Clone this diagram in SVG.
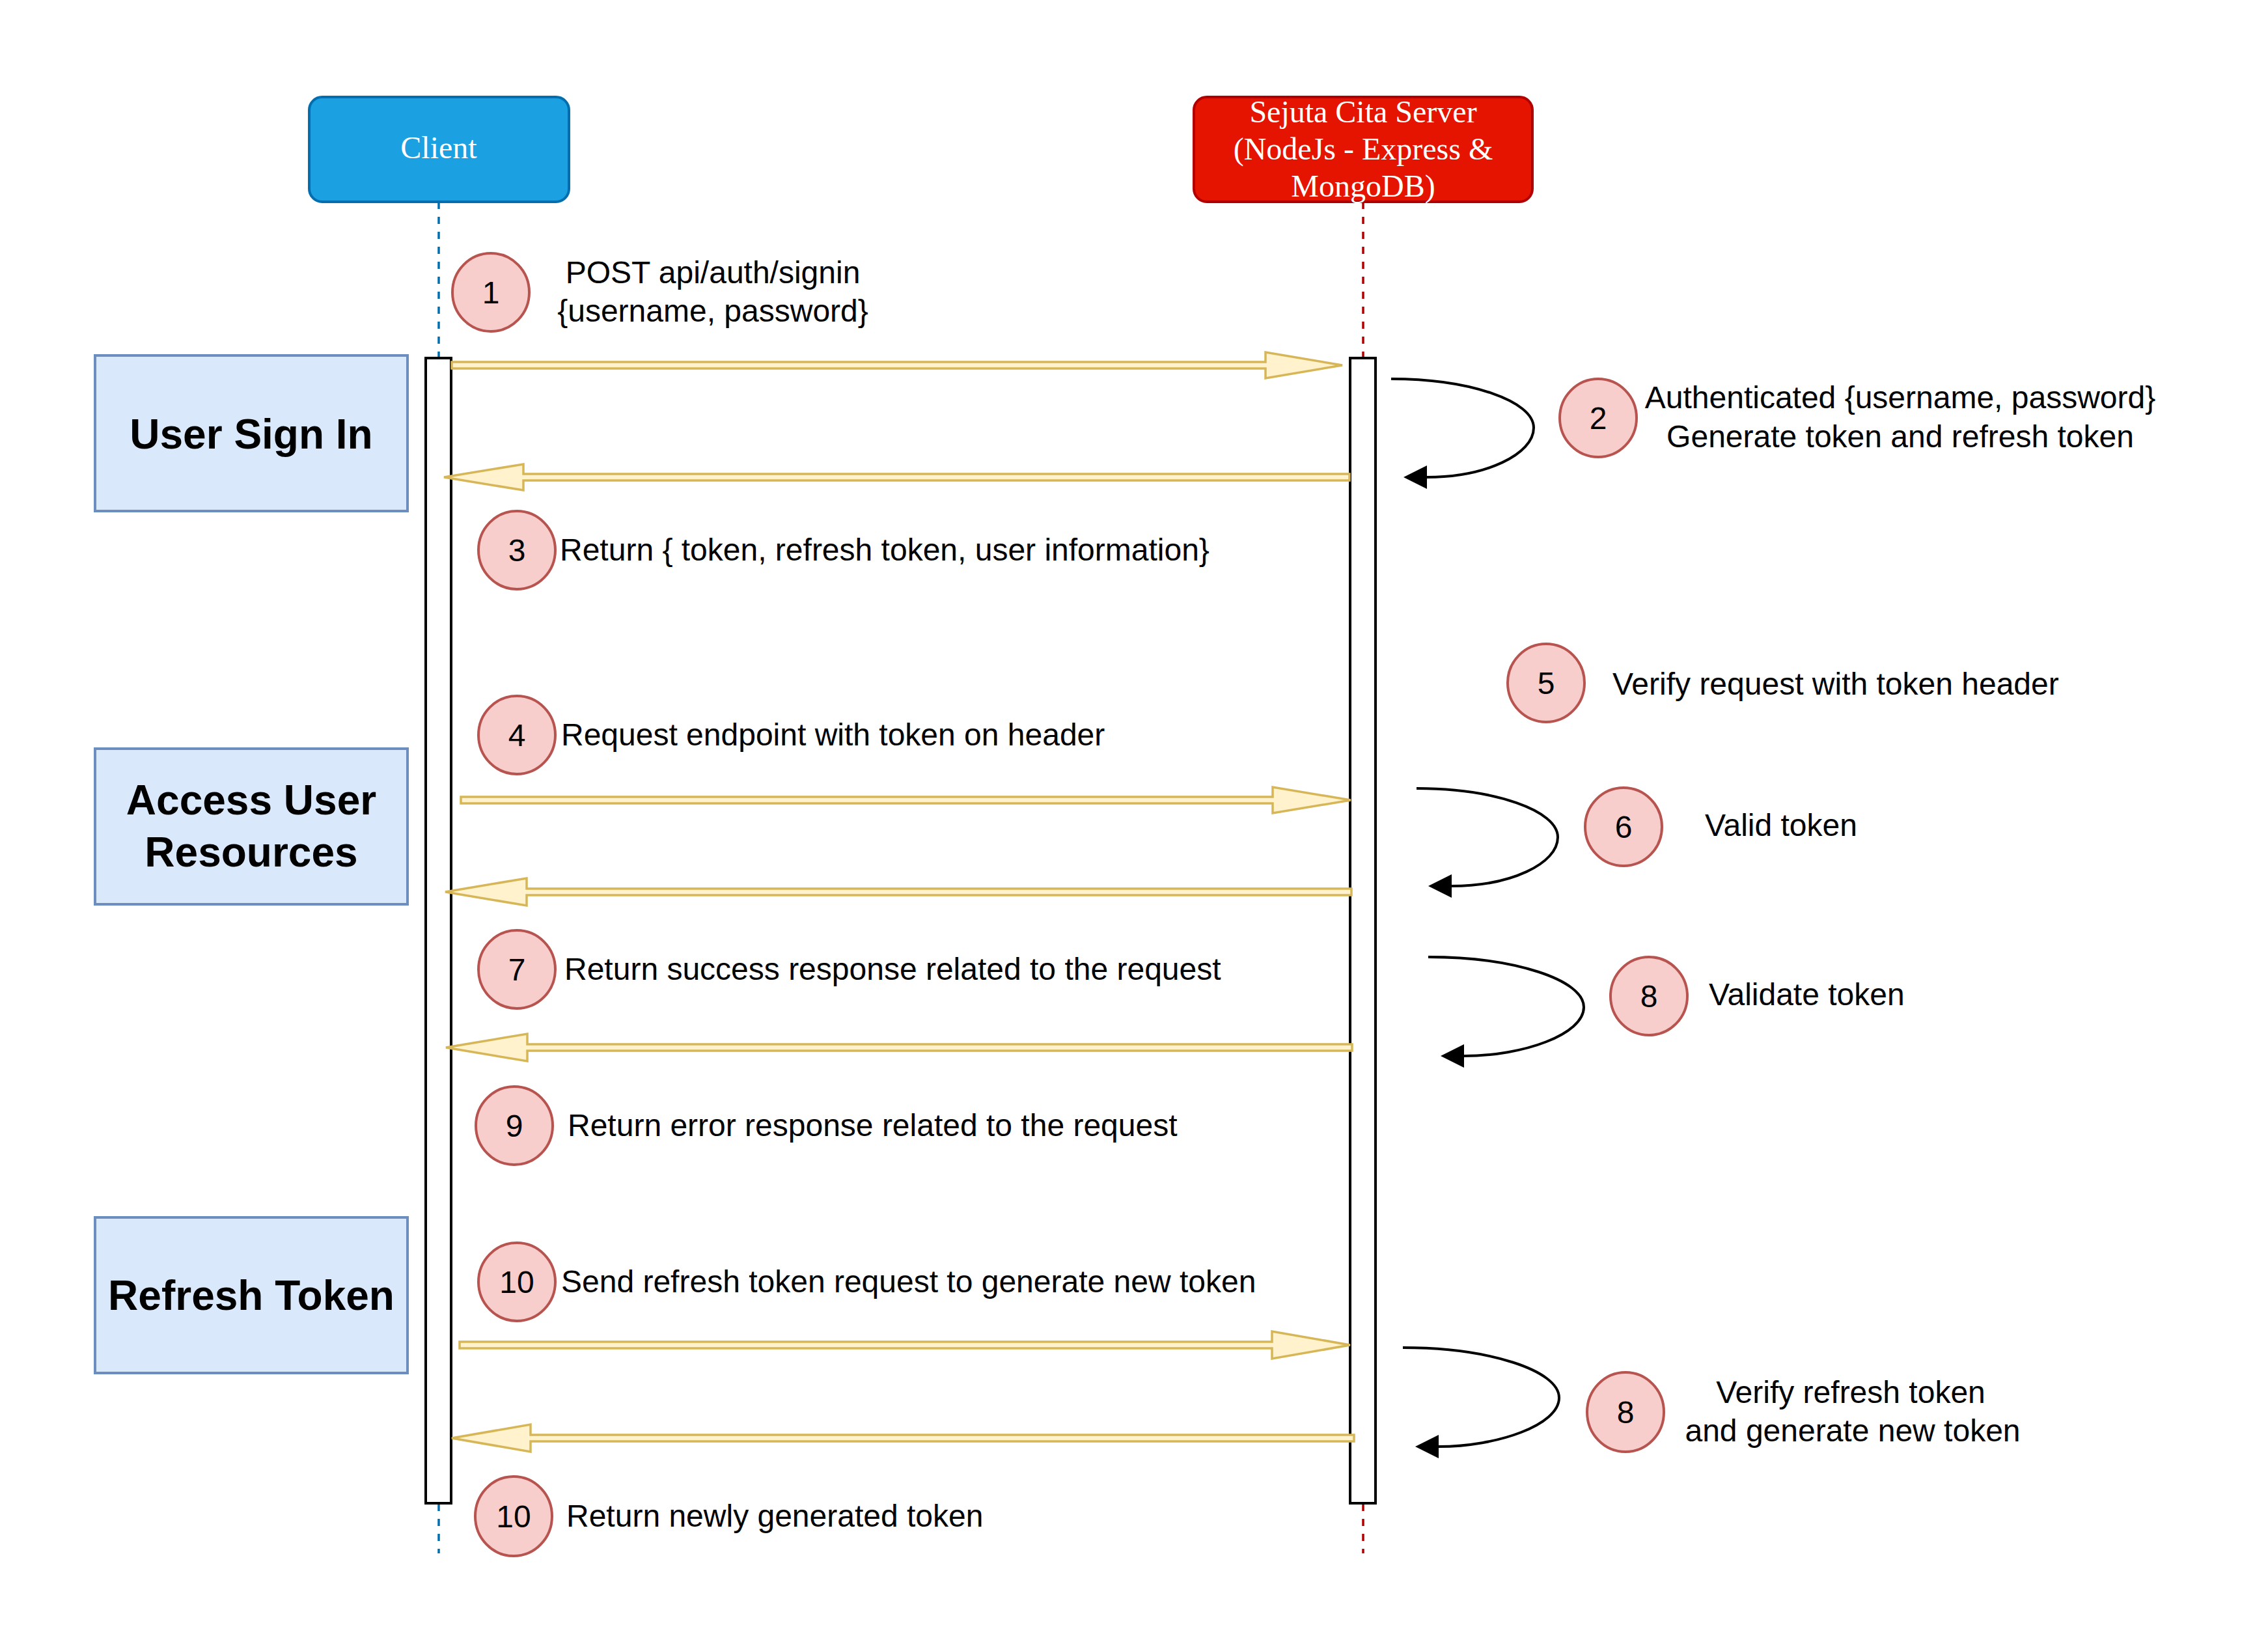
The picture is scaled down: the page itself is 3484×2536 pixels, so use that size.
<svg xmlns="http://www.w3.org/2000/svg" width="3484" height="2536" viewBox="0 0 3484 2536">
<style>
.t{font-family:"Liberation Sans",Arial,sans-serif;font-size:48px;fill:#000}
.c{text-anchor:middle}
.b{font-weight:bold;font-size:64px}
.hdr{font-family:"Liberation Serif","Times New Roman",serif;font-size:48px;fill:#fff;text-anchor:middle}
.num{fill:#f8cecc;stroke:#b85450;stroke-width:4}
.sec{fill:#dae8fc;stroke:#6c8ebf;stroke-width:4}
.bar{fill:#fff;stroke:#000;stroke-width:4}
.blk{fill:#fff2cc;stroke:#d6b656;stroke-width:3.5;stroke-linejoin:miter}
.self{fill:none;stroke:#000;stroke-width:4}
</style>
<defs>
<marker id="ah" markerUnits="userSpaceOnUse" markerWidth="40" markerHeight="40" refX="0" refY="18" orient="auto" overflow="visible">
<path d="M0,0 L36,18 L0,36 z" fill="#000"/>
</marker>
</defs>
<rect width="3484" height="2536" fill="#fff"/>

<g id="lifelines">
<line x1="674" y1="310" x2="674" y2="549" stroke="#006eaf" stroke-width="3.5" stroke-dasharray="11 12"/>
<line x1="674" y1="2310" x2="674" y2="2386" stroke="#006eaf" stroke-width="3.5" stroke-dasharray="11 12"/>
<line x1="2094" y1="310" x2="2094" y2="549" stroke="#b20000" stroke-width="3.5" stroke-dasharray="11 12"/>
<line x1="2094" y1="2310" x2="2094" y2="2386" stroke="#b20000" stroke-width="3.5" stroke-dasharray="11 12"/>
</g>

<g id="client">
<rect x="475" y="149" width="399" height="161" rx="20" ry="20" fill="#1ba1e2" stroke="#006eaf" stroke-width="4"/>
<text class="hdr" x="674" y="243">Client</text>
</g>
<g id="server">
<rect x="1834" y="149" width="520" height="161" rx="20" ry="20" fill="#e51400" stroke="#b20000" stroke-width="4"/>
<text class="hdr" x="2094" y="188">Sejuta Cita Server</text>
<text class="hdr" x="2094" y="245">(NodeJs - Express &amp;</text>
<text class="hdr" x="2094" y="302">MongoDB)</text>
</g>

<g id="client-activation"><rect class="bar" x="654" y="550" width="39" height="1759"/></g>
<g id="server-activation"><rect class="bar" x="2074" y="550" width="39" height="1759"/></g>

<g id="sec-signin">
<rect class="sec" x="146" y="546" width="480" height="239"/>
<text class="t b c" x="386" y="689">User Sign In</text>
</g>
<g id="sec-access">
<rect class="sec" x="146" y="1150" width="480" height="239"/>
<text class="t b c" x="386" y="1251">Access User</text>
<text class="t b c" x="386" y="1331">Resources</text>
</g>
<g id="sec-refresh">
<rect class="sec" x="146" y="1870" width="480" height="239"/>
<text class="t b c" x="386" y="2012">Refresh Token</text>
</g>

<g id="connectors">
<polygon class="blk" points="694,556 1944,556 1944,541 2062,561 1944,581 1944,566 694,566"/>
<polygon class="blk" points="2073,728 804,728 804,713 682,733 804,753 804,738 2073,738"/>
<polygon class="blk" points="708,1224 1955,1224 1955,1209 2075,1229 1955,1249 1955,1234 708,1234"/>
<polygon class="blk" points="2076,1365 809,1365 809,1349 684,1370 809,1391 809,1375 2076,1375"/>
<polygon class="blk" points="2077,1604 810,1604 810,1588 685,1609 810,1630 810,1614 2077,1614"/>
<polygon class="blk" points="706,2061 1954,2061 1954,2045 2074,2066 1954,2087 1954,2071 706,2071"/>
<polygon class="blk" points="2080,2204 815,2204 815,2188 694,2209 815,2230 815,2214 2080,2214"/>

<path class="self" marker-end="url(#ah)" d="M2137,582 C2258,582 2356,616 2356,657 C2356,698 2282,733 2192,733"/>
<path class="self" marker-end="url(#ah)" d="M2176,1211 C2296,1211 2393,1245 2393,1286 C2393,1327 2320,1361 2230,1361"/>
<path class="self" marker-end="url(#ah)" d="M2194,1470 C2326,1470 2433,1505 2433,1547 C2433,1589 2340,1622 2249,1622"/>
<path class="self" marker-end="url(#ah)" d="M2155,2070 C2287,2070 2395,2105 2395,2147 C2395,2189 2300,2222 2210,2222"/>
</g>

<g id="step1">
<ellipse class="num" cx="754" cy="449" rx="59" ry="60"/>
<text class="t c" x="754" y="466">1</text>
<text class="t c" x="1095" y="435">POST api/auth/signin</text>
<text class="t c" x="1095" y="494">{username, password}</text>
</g>
<g id="step2">
<ellipse class="num" cx="2455" cy="642" rx="59" ry="60"/>
<text class="t c" x="2455" y="659">2</text>
<text class="t c" x="2919" y="627">Authenticated {username, password}</text>
<text class="t c" x="2919" y="687">Generate token and refresh token</text>
</g>
<g id="step3">
<ellipse class="num" cx="794" cy="845" rx="59" ry="60"/>
<text class="t c" x="794" y="862">3</text>
<text class="t" x="860" y="861">Return { token, refresh token, user information}</text>
</g>
<g id="step4">
<ellipse class="num" cx="794" cy="1129" rx="59" ry="60"/>
<text class="t c" x="794" y="1146">4</text>
<text class="t" x="862" y="1145">Request endpoint with token on header</text>
</g>
<g id="step5">
<ellipse class="num" cx="2375" cy="1049" rx="59" ry="60"/>
<text class="t c" x="2375" y="1066">5</text>
<text class="t" x="2477" y="1067">Verify request with token header</text>
</g>
<g id="step6">
<ellipse class="num" cx="2494" cy="1270" rx="59" ry="60"/>
<text class="t c" x="2494" y="1287">6</text>
<text class="t" x="2619" y="1284">Valid token</text>
</g>
<g id="step7">
<ellipse class="num" cx="794" cy="1489" rx="59" ry="60"/>
<text class="t c" x="794" y="1506">7</text>
<text class="t" x="867" y="1505">Return success response related to the request</text>
</g>
<g id="step8">
<ellipse class="num" cx="2533" cy="1530" rx="59" ry="60"/>
<text class="t c" x="2533" y="1547">8</text>
<text class="t" x="2625" y="1544">Validate token</text>
</g>
<g id="step9">
<ellipse class="num" cx="790" cy="1729" rx="59" ry="60"/>
<text class="t c" x="790" y="1746">9</text>
<text class="t" x="872" y="1745">Return error response related to the request</text>
</g>
<g id="step10">
<ellipse class="num" cx="794" cy="1969" rx="59" ry="60"/>
<text class="t c" x="794" y="1986">10</text>
<text class="t" x="862" y="1985">Send refresh token request to generate new token</text>
</g>
<g id="step8b">
<ellipse class="num" cx="2497" cy="2169" rx="59" ry="61"/>
<text class="t c" x="2497" y="2186">8</text>
<text class="t c" x="2843" y="2155">Verify refresh token</text>
<text class="t c" x="2846" y="2214">and generate new token</text>
</g>
<g id="step10b">
<ellipse class="num" cx="789" cy="2329" rx="59" ry="61"/>
<text class="t c" x="789" y="2346">10</text>
<text class="t" x="870" y="2345">Return newly generated token</text>
</g>
</svg>
